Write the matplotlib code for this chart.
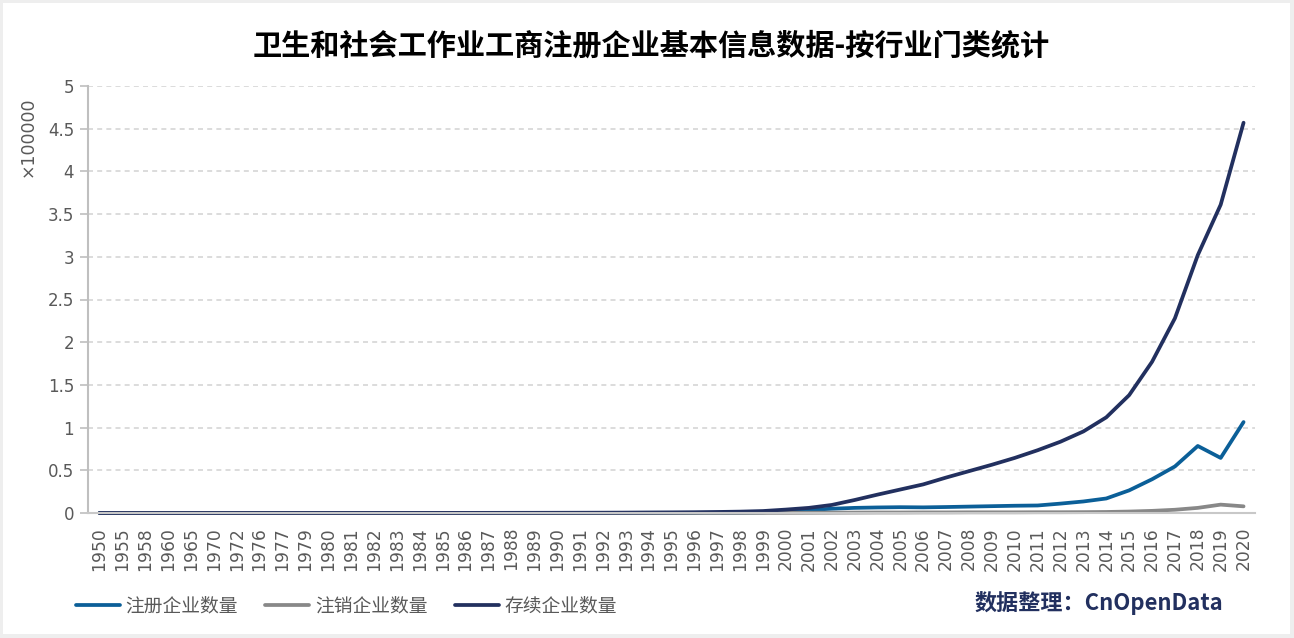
import numpy as np
import matplotlib
matplotlib.use("Agg")
import matplotlib.pyplot as plt
from matplotlib.patches import Rectangle

plt.rcParams['font.family'] = ['Noto Sans CJK SC', 'DejaVu Sans']

# ---------------- data (units of 100000) ----------------
years = ['1950', '1955', '1958', '1960', '1965', '1970', '1972', '1976', '1977',
         '1979', '1980'] + [str(y) for y in range(1981, 2021)]

registered = [0.0001, 0.0001, 0.0001, 0.0001, 0.0001, 0.0001, 0.0001, 0.0001, 0.0001,
              0.0001, 0.0002,
              0.0002, 0.0002, 0.0002, 0.0003, 0.0003, 0.0003, 0.0003, 0.0004, 0.0004,
              0.0005, 0.0006, 0.001, 0.0015, 0.002, 0.002, 0.002, 0.003, 0.004, 0.008,
              0.02, 0.035, 0.05, 0.06, 0.065, 0.068, 0.066, 0.07, 0.075, 0.08,
              0.085, 0.088, 0.11, 0.135, 0.17, 0.265, 0.395, 0.545, 0.785, 0.645, 1.065]

cancelled = [0.0, 0.0, 0.0, 0.0, 0.0, 0.0, 0.0, 0.0, 0.0,
             0.0, 0.0,
             0.0, 0.0, 0.0, 0.0, 0.0001, 0.0001, 0.0001, 0.0001, 0.0001,
             0.0002, 0.0002, 0.0003, 0.0004, 0.0005, 0.0006, 0.0008, 0.001, 0.0012, 0.0015,
             0.002, 0.003, 0.004, 0.005, 0.006, 0.006, 0.007, 0.007, 0.008, 0.008,
             0.008, 0.009, 0.009, 0.01, 0.012, 0.017, 0.025, 0.038, 0.06, 0.098, 0.078]

existing = [0.0001, 0.0001, 0.0002, 0.0002, 0.0002, 0.0003, 0.0003, 0.0004, 0.0004,
            0.0005, 0.0006,
            0.0007, 0.0008, 0.0009, 0.001, 0.0012, 0.0014, 0.0016, 0.0019, 0.0022,
            0.0026, 0.003, 0.0036, 0.0045, 0.0058, 0.0072, 0.009, 0.012, 0.016, 0.023,
            0.04, 0.06, 0.094, 0.152, 0.215, 0.275, 0.335, 0.415, 0.49, 0.565,
            0.645, 0.735, 0.835, 0.955, 1.12, 1.38, 1.77, 2.28, 3.02, 3.61, 4.57]

series_names = ['注册企业数量', '注销企业数量', '存续企业数量']
series_colors = ['#0b5f98', '#888888', '#22305f']

Title = '卫生和社会工作业工商注册企业基本信息数据-按行业门类统计'
Source = '数据整理：CnOpenData'

# ---------------- figure ----------------
fig = plt.figure(figsize=(12.94, 6.38), dpi=100)
fig.patch.set_facecolor('#eeeeee')
fig.add_artist(Rectangle((3 / 1294, 4 / 638), 1287 / 1294, 631 / 638,
                         transform=fig.transFigure, facecolor='white',
                         edgecolor='none', zorder=-10))

ax = fig.add_axes([88 / 1294, 125 / 638, (1255 - 88) / 1294, (513 - 86) / 638])
ax.set_facecolor('none')

x = np.arange(len(years))
for vals, name, col in zip([registered, cancelled, existing], series_names, series_colors):
    ax.plot(x, vals, color=col, linewidth=2.7, label=name,
            solid_joinstyle='round', solid_capstyle='round', clip_on=False)

ax.set_xlim(-0.5, len(years) - 0.5)
ax.set_ylim(0, 5)
ax.set_yticks(np.arange(0, 5.01, 0.5))
ax.set_yticklabels(['0', '0.5', '1', '1.5', '2', '2.5', '3', '3.5', '4', '4.5', '5'])
ax.set_xticks(x)
ax.set_xticklabels(years, rotation=90)

for lab in ax.get_xticklabels():
    lab.set_family('DejaVu Sans')
for lab in ax.get_yticklabels():
    lab.set_family('DejaVu Sans')

ax.tick_params(axis='x', length=0, pad=10, labelsize=12.3, labelcolor='#595959')
ax.tick_params(axis='y', length=6, width=1.2, color='#bfbfbf', pad=4,
               labelsize=12, labelcolor='#595959')

ax.grid(axis='y', color='#d6d6d6', linewidth=1.2, linestyle=(0, (3, 2.5)))
ax.set_axisbelow(True)
for side in ['top', 'right']:
    ax.spines[side].set_visible(False)
ax.spines['left'].set_color('#bfbfbf')
ax.spines['left'].set_linewidth(1.5)
ax.spines['bottom'].set_color('#c8c8c8')
ax.spines['bottom'].set_linewidth(1.5)

fig.text(28 / 1294, 1 - 137 / 638, '×100000', rotation=90, ha='center', va='center',
         fontsize=12.5, color='#595959', family='DejaVu Sans')

fig.suptitle(Title, x=651 / 1294, y=1 - 45 / 638, va='center', ha='center',
             fontsize=21, fontweight='bold', color='black')

fig.legend(loc='center left', bbox_to_anchor=(76 / 1294, 1 - 606 / 638), ncol=3,
           frameon=False, fontsize=13.5, handlelength=2.35, handletextpad=0.3,
           columnspacing=1.45, labelcolor='#595959', borderaxespad=0, borderpad=0)

fig.text(975 / 1294, 1 - 603 / 638, Source, ha='left', va='center',
         fontsize=15.9, fontweight='bold', color='#22305f')

fig.savefig('out.png', dpi=100, facecolor=fig.get_facecolor())
